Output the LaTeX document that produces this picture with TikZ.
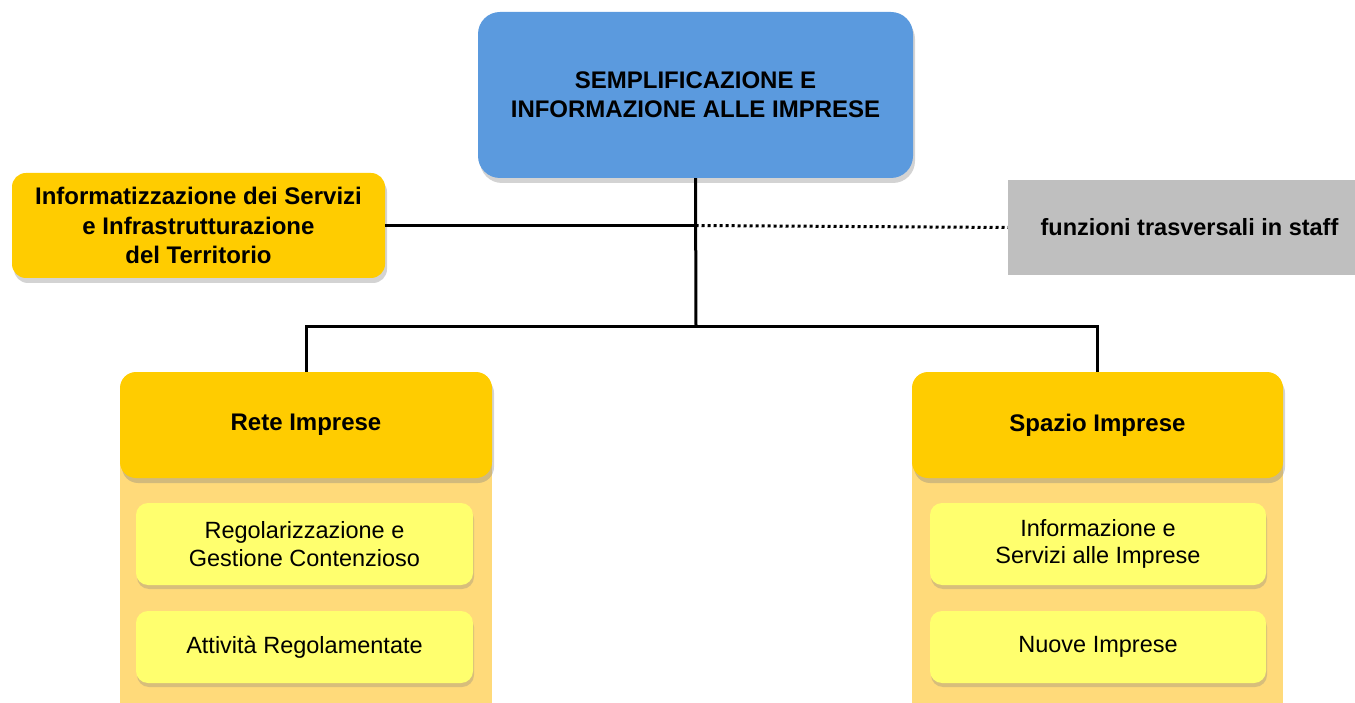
\documentclass[tikz,border=0pt]{standalone}
\usepackage{fontspec}
\setmainfont{Liberation Sans}
\usepackage{tikz}
\usetikzlibrary{shadows}
\usepackage{xcolor}
\definecolor{unitblue}{RGB}{91,154,222}
\definecolor{unitgold}{RGB}{255,204,0}
\definecolor{panelgold}{RGB}{255,218,122}
\definecolor{officeyellow}{RGB}{255,255,110}
\definecolor{staffgrey}{RGB}{191,191,191}

\begin{document}
\begin{tikzpicture}[x=1pt, y=-1pt,
    shade/.style={drop shadow={shadow xshift=2pt, shadow yshift=-5pt, opacity=0.35}},
    unit/.style={rounded corners=22pt, draw=none, align=center, inner sep=0pt, shade},
    office/.style={rounded corners=12pt, draw=none, fill=officeyellow, align=center, inner sep=0pt,
        minimum width=337pt, font=\fontsize{23.5}{27.5}\selectfont,
        drop shadow={shadow xshift=1pt, shadow yshift=-4pt, opacity=0.3}},
    link/.style={line width=3pt}]
    \useasboundingbox (0,0) rectangle (1355,703);

    % Top unit
    \node[unit, fill=unitblue, minimum width=435pt, minimum height=166pt,
        font=\bfseries\fontsize{24}{29}\selectfont] (sempl) at (695.5,95)
        {SEMPLIFICAZIONE E\\INFORMAZIONE ALLE IMPRESE};

    % Staff functions
    \node[unit, rounded corners=14pt, fill=unitgold, minimum width=373pt, minimum height=105pt,
        font=\bfseries\fontsize{24}{29.5}\selectfont] (infserv) at (198.5,225.5)
        {Informatizzazione dei Servizi\\e Infrastrutturazione\\del Territorio};
    \node[fill=staffgrey, minimum width=347pt, minimum height=95pt, inner sep=0pt,
        font=\bfseries\fontsize{23.5}{26}\selectfont] (staff) at (1181.5,227.5)
        {\hspace{16pt}funzioni trasversali in staff};

    % Panels behind the two areas
    \fill[panelgold] (120,425) rectangle (492,703);
    \fill[panelgold] (912,425) rectangle (1283,703);

    % Areas
    \node[unit, rounded corners=16pt, fill=unitgold, minimum width=372pt, minimum height=106pt,
        font=\bfseries\fontsize{24}{28}\selectfont] (rete) at (306,425) {Rete Imprese};
    \node[unit, rounded corners=16pt, fill=unitgold, minimum width=371pt, minimum height=106pt,
        font=\bfseries\fontsize{24}{28}\selectfont] (spazio) at (1097.5,425) {Spazio Imprese};

    % Offices
    \node[office, minimum height=82pt] (regol) at (304.5,544)
        {Regolarizzazione e\\Gestione Contenzioso};
    \node[office, minimum height=72pt] (attiv) at (304.5,647) {Attività Regolamentate};
    \node[office, minimum height=82pt, minimum width=336pt] (infimp) at (1098,544)
        {Informazione e\\Servizi alle Imprese};
    \node[office, minimum height=72pt, minimum width=336pt] (nuove) at (1098,647) {Nuove Imprese};

    % Connectors
    \coordinate (bus) at (696,327);
    \draw[link] (sempl.south) -- (bus);
    \draw[link] (infserv.east) -- (infserv.east -| sempl.south);
    \draw[link, dash pattern=on 3pt off 3pt] (infserv.east -| sempl.south) -- (staff.west);
    \draw[link] (rete.north) |- (bus) -| (spazio.north);
\end{tikzpicture}
\end{document}
